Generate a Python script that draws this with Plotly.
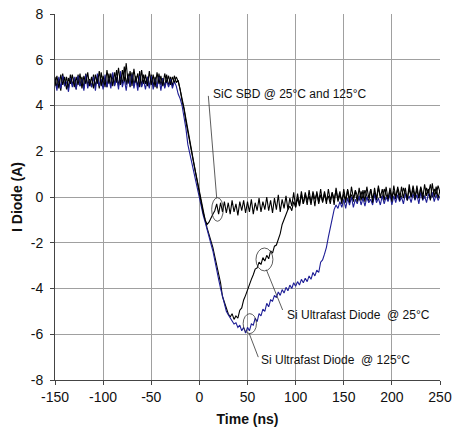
import plotly.graph_objects as go

# Sample times (ns), 2 ns scope sampling from -150 to 250
time_ns = list(range(-150, 251, 2))

# Si Ultrafast Diode @ 125°C (blue)
si_125 = [
    5.1, 4.65, 5.25, 4.75, 5.3, 4.85, 5.05, 4.6, 5.2, 4.8,
    5.25, 4.7, 5.3, 4.85, 5.15, 4.65, 5.35, 4.75, 5.1, 4.8,
    5.25, 4.65, 5.4, 4.85, 5.15, 4.7, 5.35, 4.8, 5.2, 4.75,
    5.45, 4.85, 5.25, 4.7, 5.5, 4.8, 5.15, 4.65, 5.3, 4.85,
    5.35, 4.75, 5.2, 4.65, 5.3, 4.8, 5.1, 4.7, 5.25, 4.75,
    5.3, 4.7, 5.15, 4.8, 5.25, 4.65, 5.2, 4.75, 5.1, 4.8,
    5.15, 4.75, 5.05, 4.85, 4.5, 4.3, 4.0, 3.5, 3.0, 2.3,
    1.9, 1.55, 1.1, 0.75, 0.35, 0.0, -0.35, -0.8, -1.1, -1.45,
    -1.75, -2.05, -2.35, -2.8, -3.3, -3.6, -4.0, -4.3, -4.6, -5.0,
    -5.15, -5.3, -5.45, -5.55, -5.5, -5.7, -5.6, -5.85, -5.7, -5.95,
    -5.7, -5.85, -5.55, -5.6, -5.3, -5.45, -5.1, -5.2, -4.9, -5.0,
    -4.65, -4.8, -4.5, -4.55, -4.3, -4.4, -4.15, -4.3, -4.05, -4.2,
    -3.95, -4.1, -3.85, -4.0, -3.75, -3.9, -3.7, -3.85, -3.6, -3.75,
    -3.55, -3.7, -3.45, -3.6, -3.3, -3.45, -3.2, -3.3, -2.85, -2.75,
    -2.5, -2.2, -1.75, -1.3, -0.9, -0.55, -0.35, -0.5, -0.2, -0.45,
    -0.1, -0.5, -0.05, -0.35, 0.0, -0.45, -0.1, -0.3, 0.05, -0.35,
    -0.05, -0.4, 0.0, -0.25, -0.1, -0.35, 0.1, -0.25, -0.05, -0.35,
    0.05, -0.3, 0.0, -0.2, 0.1, -0.35, 0.05, -0.25, 0.1, -0.2,
    0.0, -0.3, 0.15, -0.15, 0.05, -0.25, 0.15, -0.15, 0.1, -0.3,
    0.2, -0.15, 0.05, -0.25, 0.15, -0.1, 0.2, -0.2, 0.1, -0.15,
    0.05,
]

# Si Ultrafast Diode @ 25°C (black)
si_25 = [
    5.25, 4.8, 5.15, 4.65, 5.4, 4.85, 5.25, 4.75, 5.35, 4.9,
    5.2, 4.7, 5.35, 4.85, 5.25, 4.75, 5.4, 4.9, 5.15, 4.8,
    5.35, 4.85, 5.25, 4.75, 5.45, 4.9, 5.2, 4.8, 5.4, 4.85,
    5.3, 4.9, 5.55, 4.85, 5.35, 4.95, 5.7, 4.9, 5.4, 4.8,
    5.45, 4.9, 5.3, 4.8, 5.5, 4.85, 5.35, 4.95, 5.25, 4.8,
    5.35, 4.85, 5.25, 4.75, 5.4, 4.9, 5.2, 4.8, 5.35, 4.85,
    5.25, 4.85, 5.3, 5.0, 5.1, 4.75, 4.3, 3.9, 3.4, 2.95,
    2.5, 2.0, 1.55, 1.1, 0.65, 0.2, -0.25, -0.65, -1.0, -1.35,
    -1.6, -1.95, -2.2, -2.6, -3.0, -3.4, -3.75, -4.35, -4.6, -4.9,
    -5.1, -5.25, -5.1, -5.35, -5.2, -5.3, -4.95, -4.85, -4.5, -4.3,
    -4.05, -3.75, -3.6, -3.4, -3.15, -3.1, -2.85, -2.95, -2.65, -2.8,
    -2.55, -2.7, -2.35, -2.45, -2.15, -2.1, -1.85, -1.6, -1.2, -0.95,
    -0.75, -0.55, -0.4, -0.6, -0.2, -0.45, -0.05, -0.4, 0.1, -0.3,
    0.2, -0.15, 0.05, -0.35, 0.25, -0.1, 0.15, -0.3, 0.1, -0.2,
    0.25, -0.15, 0.05, -0.3, 0.2, -0.1, 0.3, -0.2, 0.1, -0.15,
    0.15, -0.25, 0.35, -0.05, 0.1, -0.2, 0.3, 0.05, -0.15, 0.25,
    -0.1, 0.3, 0.05, -0.2, 0.35, -0.05, 0.2, -0.15, 0.4, 0.05,
    -0.05, 0.35, 0.1, -0.15, 0.4, 0.0, 0.25, -0.1, 0.45, 0.1,
    -0.05, 0.4, 0.15, -0.1, 0.35, 0.0, 0.5, 0.05, 0.3, -0.05,
    0.45, 0.1, -0.05, 0.4, 0.15, 0.55, 0.0, 0.35, 0.1, 0.5,
    0.2,
]

# SiC SBD @ 25°C and 125°C (black)
sic_sbd = [
    4.85, 5.3, 4.75, 5.35, 4.9, 5.25, 4.7, 5.2, 4.95, 5.35,
    4.8, 5.25, 4.9, 5.4, 4.75, 5.3, 4.95, 5.45, 4.85, 5.25,
    4.75, 5.35, 4.95, 5.5, 4.85, 5.3, 4.8, 5.55, 4.95, 5.4,
    4.85, 5.45, 5.0, 5.65, 4.9, 5.55, 5.05, 5.85, 4.95, 5.5,
    4.85, 5.6, 5.0, 5.4, 4.8, 5.55, 4.95, 5.35, 4.85, 5.5,
    4.9, 5.35, 4.8, 5.45, 4.95, 5.3, 4.85, 5.4, 5.0, 5.3,
    4.9, 5.25, 5.0, 5.25, 5.05, 4.7, 4.2, 3.85, 3.3, 2.9,
    2.45, 1.95, 1.5, 1.05, 0.6, 0.15, -0.3, -0.7, -1.0, -1.2,
    -1.1, -0.9, -0.75, -0.6, -0.3, -0.75, -0.25, -0.65, -0.2, -0.7,
    -0.25, -0.75, -0.15, -0.65, -0.3, -0.8, -0.2, -0.6, -0.15, -0.7,
    -0.2, -0.65, -0.1, -0.75, -0.25, -0.6, -0.05, -0.65, -0.2, -0.55,
    0.0, -0.6, -0.15, -0.7, -0.05, -0.55, 0.1, -0.65, -0.1, -0.5,
    0.05, -0.55, -0.05, -0.4, 0.2, -0.45, 0.15, -0.35, 0.25, -0.3,
    0.1, -0.35, 0.3, -0.25, 0.15, -0.4, 0.25, -0.2, 0.35, -0.25,
    0.15, -0.3, 0.35, -0.15, 0.2, -0.35, 0.4, -0.1, 0.25, -0.3,
    0.35, -0.15, 0.3, -0.25, 0.45, -0.05, 0.25, -0.2, 0.4, -0.15,
    0.3, -0.2, 0.45, -0.05, 0.35, -0.25, 0.4, -0.1, 0.5, -0.05,
    0.35, -0.15, 0.45, -0.1, 0.3, -0.2, 0.5, 0.0, 0.35, -0.15,
    0.45, -0.05, 0.4, -0.15, 0.55, 0.0, 0.35, -0.1, 0.5, -0.05,
    0.4, -0.1, 0.55, 0.05, 0.35, -0.15, 0.6, 0.0, 0.45, -0.05,
    0.3,
]

x_ticks = [-150, -100, -50, 0, 50, 100, 150, 200, 250]
y_ticks = [-8, -6, -4, -2, 0, 2, 4, 6, 8]

FONT = "Liberation Sans, Arial, sans-serif"
BLUE = "#1e1e96"

fig = go.Figure()
fig.add_trace(go.Scatter(x=time_ns, y=si_25, mode="lines",
                         line=dict(color="#000000", width=1.1), name="Si 25°C"))
fig.add_trace(go.Scatter(x=time_ns, y=si_125, mode="lines",
                         line=dict(color=BLUE, width=1.1), name="Si 125°C"))
fig.add_trace(go.Scatter(x=time_ns, y=sic_sbd, mode="lines",
                         line=dict(color="#000000", width=1.1), name="SiC SBD"))

line_style = dict(color="#333333", width=0.8)
shapes = [
    dict(type="circle", xref="x", yref="y", x0=12.8, x1=24.8, y0=-1.06, y1=-0.03, line=line_style),
    dict(type="line", xref="x", yref="y", x0=9.3, y0=4.42, x1=18.0, y1=-0.04, line=line_style),
    dict(type="circle", xref="x", yref="y", x0=58.8, x1=76.4, y0=-3.23, y1=-2.23, line=line_style),
    dict(type="line", xref="x", yref="y", x0=69.6, y0=-3.18, x1=86.5, y1=-4.94, line=line_style),
    dict(type="circle", xref="x", yref="y", x0=45.5, x1=59.3, y0=-5.97, y1=-5.1, line=line_style),
    dict(type="line", xref="x", yref="y", x0=51.7, y0=-5.96, x1=61.2, y1=-7.0, line=line_style),
]

annotations = [
    dict(x=11.8, y=4.52, text="SiC SBD @ 25°C and 125°C"),
    dict(x=88.8, y=-5.16, text="Si Ultrafast Diode  @ 25°C"),
    dict(x=62.0, y=-7.12, text="Si Ultrafast Diode  @ 125°C"),
]
for a in annotations:
    a.update(xref="x", yref="y", xanchor="left", yanchor="middle", showarrow=False,
             font=dict(family=FONT, size=12, color="#111111"))

fig.update_layout(
    width=452, height=432,
    margin=dict(l=55, r=12, t=14, b=52),
    paper_bgcolor="white", plot_bgcolor="white",
    showlegend=False,
    font=dict(family=FONT, size=14, color="#111111"),
    shapes=shapes, annotations=annotations,
    xaxis=dict(range=[-150, 250], tickvals=x_ticks, ticktext=[str(v) for v in x_ticks],
               showgrid=True, gridcolor="#a0a0a0", gridwidth=1,
               showline=True, linecolor="#444444", linewidth=1,
               ticks="outside", ticklen=4, tickcolor="#444444",
               zeroline=False, automargin=False,
               title=dict(text="<b>Time (ns)</b>", font=dict(family=FONT, size=14), standoff=10)),
    yaxis=dict(range=[-8, 8], tickvals=y_ticks, ticktext=[str(v) for v in y_ticks],
               showgrid=True, gridcolor="#a0a0a0", gridwidth=1,
               showline=True, linecolor="#444444", linewidth=1,
               ticks="outside", ticklen=4, tickcolor="#444444",
               ticklabelstandoff=4,
               zeroline=False, automargin=False,
               title=dict(text="<b>I Diode (A)</b>", font=dict(family=FONT, size=14), standoff=4)),
)

fig.write_html("out.html",
               config={"displayModeBar": False},
               post_script="document.body.style.margin='0';document.body.style.padding='0';")
